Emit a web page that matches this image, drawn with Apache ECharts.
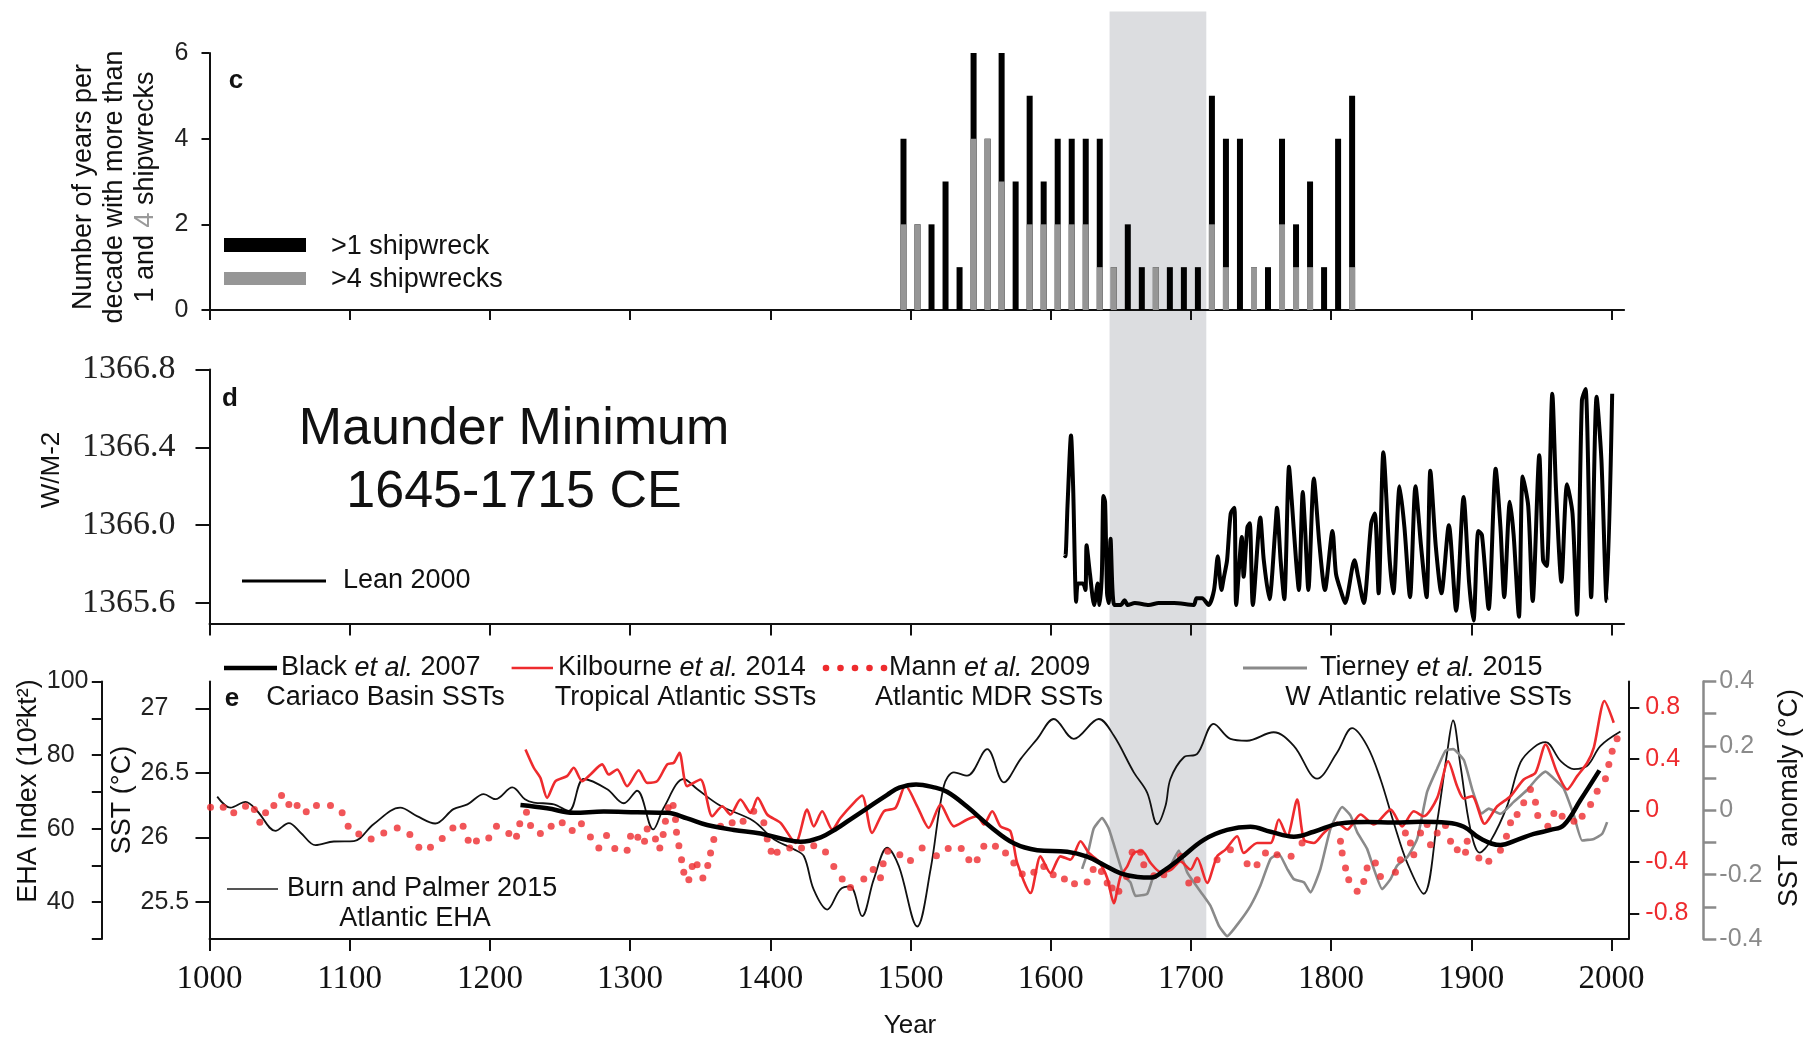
<!DOCTYPE html>
<html><head><meta charset="utf-8">
<script src="https://cdn.jsdelivr.net/npm/echarts@6/dist/echarts.min.js"></script>
<style>html,body{margin:0;padding:0;background:#fff}#c{width:1805px;height:1039px}</style>
</head><body><div id="c"></div>
<script>
// ---------------- DATA ----------------
const yearTicks = [1000,1100,1200,1300,1400,1500,1600,1700,1800,1900,2000];
const maunder = [1642, 1711];

// Panel c: years per decade with >1 and >4 shipwrecks
const decades = [1490,1500,1510,1520,1530,1540,1550,1560,1570,1580,1590,1600,1610,1620,1630,1640,1650,1660,1670,1680,1690,1700,1710,1720,1730,1740,1750,1760,1770,1780,1790,1800,1810];
const over1 = [4,2,2,3,1,6,4,6,3,5,3,4,4,4,4,1,2,1,1,1,1,1,5,4,4,1,1,4,2,3,1,4,5];
const over4 = [2,2,0,0,0,4,4,3,0,2,2,2,2,2,1,1,0,0,1,0,0,0,2,1,0,1,0,2,1,1,0,0,1];
const cTicks = [0,2,4,6];

// Panel d: Lean 2000 TSI (W/m2)
const lean2000 = [[1609.8,1365.846],[1610.5,1365.84],[1612,1366.1],[1614.5,1366.461],[1616,1366.2],[1618.2,1365.607],[1619.5,1365.70],[1623,1365.70],[1624.8,1365.667],[1625.6,1365.897],[1628,1365.75],[1631,1365.59],[1633.5,1365.70],[1634.8,1365.59],[1636.5,1365.75],[1637.6,1366.15],[1638.8,1366.12],[1640.2,1365.65],[1641.4,1365.6],[1642.7,1365.93],[1645.3,1365.59],[1650,1365.59],[1652.7,1365.615],[1655,1365.59],[1660,1365.6],[1670,1365.59],[1677,1365.6],[1688,1365.6],[1702,1365.59],[1704,1365.625],[1708,1365.625],[1712.6,1365.59],[1716.5,1365.667],[1719.2,1365.84],[1721.8,1365.667],[1723.6,1365.735],[1725.8,1365.82],[1728.4,1366.06],[1731,1366.09],[1732.3,1365.59],[1736.3,1365.94],[1737.6,1365.735],[1740.3,1365.99],[1742,1366.01],[1744.2,1365.59],[1749.5,1366.04],[1752,1365.82],[1756,1365.62],[1760,1365.96],[1761.4,1366.09],[1764,1365.82],[1766.6,1365.62],[1770,1366.30],[1771.9,1366.13],[1775,1365.82],[1777,1365.667],[1779.8,1366.17],[1781.4,1365.99],[1783.8,1365.667],[1787.7,1366.24],[1791.7,1365.90],[1795.6,1365.667],[1801,1365.97],[1803.5,1365.75],[1807.5,1365.65],[1810,1365.6],[1816.7,1365.82],[1819.3,1365.735],[1823.3,1365.6],[1828.6,1366.01],[1831.2,1366.06],[1833.9,1365.65],[1837.3,1366.375],[1841.8,1365.82],[1844.4,1365.65],[1848.9,1366.20],[1852.3,1365.99],[1856.3,1365.63],[1860.2,1366.20],[1864.2,1365.89],[1868.1,1365.63],[1870.8,1366.28],[1874.7,1365.89],[1878.7,1365.65],[1884,1366.0],[1889.2,1365.56],[1894.5,1366.145],[1898.5,1365.70],[1901.6,1365.51],[1905,1365.97],[1907.6,1365.95],[1912.4,1365.57],[1917.4,1366.29],[1920.8,1365.99],[1923.5,1365.63],[1927.5,1366.12],[1930.2,1365.95],[1934,1365.53],[1936.7,1366.25],[1940.6,1366.1],[1943.8,1365.61],[1948.5,1366.36],[1951.2,1365.82],[1953.8,1365.79],[1957.8,1366.675],[1960.4,1366.19],[1964.3,1365.71],[1968.3,1366.21],[1972.2,1366.06],[1975.4,1365.54],[1978.9,1366.64],[1981.5,1366.70],[1985.5,1365.63],[1989.4,1366.66],[1992.8,1366.34],[1996.5,1365.61],[2000.5,1366.675]];
const dTicks = [1365.6,1366.0,1366.4,1366.8];

// Panel e
const burnPalmer = [[1005.5,68.7],[1015,65.7],[1025.7,67.3],[1034,64.8],[1047,59.4],[1056.6,61.5],[1065,58.9],[1075.6,55.5],[1088.7,56.5],[1103,56.6],[1117,61.2],[1136,65.7],[1148,63.4],[1161,61.4],[1174,65.3],[1184,66.6],[1195.6,69.4],[1204,68.0],[1216,71.2],[1225,68.0],[1231.3,67.1],[1245.6,66.6],[1256.3,64.8],[1267,73.5],[1283.7,70.7],[1295.5,66.9],[1305,70.3],[1316.5,59.8],[1324,65.7],[1338.3,73.5],[1348,70.7],[1364.5,66.2],[1388,62.1],[1402.5,57.1],[1416.8,54.4],[1424,52.5],[1431,43.4],[1440.6,38.0],[1450,43.5],[1457,44.3],[1465.5,36.2],[1473.8,46.2],[1483.4,54.8],[1491.7,49.8],[1504.8,33.4],[1514.3,48.9],[1523.8,71.6],[1531,75.3],[1540.5,74.4],[1554.7,81.6],[1566.6,72.6],[1578.5,78.9],[1590.4,84.4],[1602.2,89.8],[1616.5,84.4],[1634.3,89.8],[1645,85.3],[1659.3,75.3],[1668.8,69.8],[1676,61.2],[1681.9,66.2],[1685.4,73.5],[1695,79.4],[1704.5,80.3],[1716.3,88.5],[1728.2,84.4],[1740,83.9],[1759,86.2],[1773.4,82.5],[1790,73.6],[1804.3,80.7],[1815,87.3],[1825.7,82.5],[1835.2,73.5],[1844.7,61.6],[1854.3,50.7],[1866.1,42.3],[1875.7,62],[1882.8,80.7],[1887,89.4],[1892.3,77.1],[1899.4,59.8],[1906,53.5],[1913.7,56.6],[1925.6,66.2],[1935.1,78.0],[1944.6,82.1],[1953,83.5],[1963.7,78.4],[1973.2,76.2],[1982.7,77.1],[1992.2,82.5],[2006.4,86.4]];
const black2007 = [[1221.8,26.25],[1240.8,26.225],[1259.8,26.19],[1281.2,26.2],[1305,26.194],[1326.5,26.19],[1340.7,26.147],[1355,26.095],[1374,26.057],[1393,26.03],[1409.6,25.985],[1421.5,25.966],[1436,26.0],[1447.7,26.07],[1457.2,26.14],[1469,26.225],[1483.4,26.33],[1492,26.385],[1504,26.41],[1516,26.39],[1526,26.354],[1540.5,26.237],[1557,26.082],[1573.7,25.953],[1590.4,25.9],[1611.8,25.888],[1626,25.85],[1638,25.785],[1650,25.72],[1662,25.692],[1672,25.688],[1680,25.735],[1692.6,25.837],[1709.2,25.98],[1725.8,26.057],[1742.5,26.082],[1756.8,26.043],[1773.4,26.005],[1787.7,26.043],[1806.7,26.108],[1825.7,26.118],[1844.7,26.114],[1863.8,26.12],[1882.8,26.113],[1894.7,26.082],[1906.6,25.99],[1920.8,25.94],[1932.7,25.98],[1944.6,26.026],[1956.5,26.057],[1966,26.095],[1977.9,26.29],[1991.4,26.52]];
const kilbourne = [[1225.4,0.472],[1231.3,0.33],[1236,0.252],[1240.8,0.096],[1246.8,0.226],[1255,0.265],[1259.8,0.33],[1265.8,0.226],[1271.7,0.278],[1280,0.356],[1284.8,0.278],[1290.8,0.317],[1297.9,0.187],[1306.2,0.311],[1312.2,0.213],[1319.3,0.226],[1326.5,0.356],[1331.2,0.369],[1335.2,0.447],[1340.7,0.187],[1350.2,0.239],[1358.6,-0.047],[1365.7,0.031],[1371.6,-0.033],[1378.7,0.083],[1385.9,-0.02],[1391,0.096],[1397.8,-0.033],[1407.3,-0.098],[1418,-0.254],[1426.3,0.005],[1431,-0.125],[1437,-0.008],[1444.2,-0.15],[1450,-0.06],[1459.6,0.058],[1465.5,0.114],[1472.6,-0.176],[1481,-0.008],[1489.3,0.018],[1496.4,0.192],[1504.8,0.031],[1513,-0.137],[1521.4,0.044],[1531,-0.125],[1540.5,-0.072],[1547.6,-0.047],[1552.3,-0.111],[1558.3,-0.008],[1564.2,-0.125],[1571.3,-0.163],[1576.1,-0.409],[1585.6,-0.643],[1592.7,-0.358],[1599.9,-0.488],[1607,-0.358],[1614.1,-0.384],[1621.3,-0.241],[1627.2,-0.332],[1634.3,-0.397],[1640.3,-0.526],[1645,-0.721],[1649.8,-0.514],[1654.6,-0.436],[1659.3,-0.332],[1665.3,-0.319],[1671.2,-0.409],[1678.3,-0.48],[1685.4,-0.465],[1692.6,-0.397],[1699.7,-0.461],[1704.5,-0.371],[1711.6,-0.565],[1718.7,-0.358],[1724.7,-0.306],[1733,-0.202],[1737.7,-0.332],[1747.3,-0.254],[1756.8,-0.254],[1762.7,-0.072],[1768.7,-0.202],[1775.8,0.083],[1780.6,-0.228],[1787.7,-0.254],[1794.8,-0.176],[1804.3,-0.098],[1811.5,-0.15],[1821,-0.033],[1830.5,-0.111],[1842.4,0.005],[1850.7,-0.125],[1859,-0.008],[1866.1,-0.047],[1875.7,0.096],[1883.5,0.381],[1889.9,0.187],[1894.7,0.09],[1900.6,0.109],[1909.5,-0.105],[1918.5,0.031],[1928,0.109],[1937.4,0.239],[1945.8,0.291],[1953,0.511],[1961.3,0.291],[1968.4,0.161],[1975.5,0.265],[1982.7,0.369],[1987.4,0.486],[1995,0.848],[2001.6,0.68]];
const mann = [[1000.7,0.023],[1009.8,0.023],[1017.3,-0.02],[1025.7,0.031],[1032,0.005],[1035.9,-0.093],[1040,-0.02],[1045.9,0.037],[1051.4,0.114],[1056.6,0.044],[1062.5,0.037],[1069,-0.012],[1076.3,0.037],[1086.3,0.037],[1094.6,-0.02],[1098.9,-0.125],[1106.5,-0.184],[1115.3,-0.223],[1124.3,-0.176],[1133.9,-0.137],[1142.9,-0.189],[1149.3,-0.288],[1157.6,-0.288],[1166,-0.22],[1173.6,-0.137],[1180.9,-0.125],[1184.5,-0.233],[1190.4,-0.238],[1199.2,-0.215],[1204.7,-0.125],[1213.5,-0.181],[1219,-0.202],[1221.3,-0.104],[1226.1,-0.016],[1229,-0.119],[1236,-0.181],[1243.7,-0.125],[1251.6,-0.098],[1258.7,-0.158],[1265.3,-0.104],[1271.7,-0.207],[1277.7,-0.293],[1283.2,-0.197],[1289.1,-0.298],[1297.9,-0.311],[1300.3,-0.202],[1305.5,-0.21],[1310.3,-0.241],[1312.2,-0.145],[1318.1,-0.223],[1321.2,-0.293],[1323.6,-0.189],[1325.2,-0.086],[1327.2,0.019],[1330.7,0.037],[1332.4,-0.072],[1333.1,-0.171],[1334.8,-0.275],[1336.7,-0.384],[1338.3,-0.482],[1341.9,-0.539],[1344.3,-0.436],[1347.8,-0.423],[1351.9,-0.526],[1355.4,-0.43],[1357.4,-0.332],[1359.7,-0.228],[1364.5,-0.125],[1372.8,-0.098],[1380.6,-0.086],[1388.2,-0.008],[1395.4,-0.098],[1397.8,-0.223],[1400.6,-0.319],[1404.9,-0.327],[1413.9,-0.293],[1422.3,-0.293],[1431,-0.275],[1439.4,-0.324],[1445.3,-0.436],[1451.3,-0.534],[1457.2,-0.6],[1466.7,-0.534],[1473.4,-0.461],[1478.6,-0.524],[1480.5,-0.415],[1483.8,-0.319],[1492.4,-0.345],[1500,-0.391],[1508.3,-0.293],[1518.5,-0.353],[1526.9,-0.298],[1536.2,-0.298],[1541.6,-0.384],[1547.6,-0.384],[1552.3,-0.28],[1560.6,-0.28],[1567.8,-0.332],[1573.7,-0.409],[1579.7,-0.495],[1588,-0.482],[1595.1,-0.436],[1601.8,-0.5],[1609.8,-0.534],[1617,-0.57],[1626,-0.557],[1630.3,-0.461],[1636.2,-0.475],[1640.3,-0.565],[1643.8,-0.604],[1648.6,-0.63],[1654.1,-0.514],[1658.1,-0.327],[1664.1,-0.327],[1666.4,-0.423],[1673.6,-0.508],[1680.7,-0.5],[1692.6,-0.358],[1698.5,-0.565],[1704.5,-0.539],[1718.7,-0.384],[1728.2,-0.306],[1740.1,-0.415],[1747.2,-0.423],[1753.2,-0.332],[1761.5,-0.345],[1771.5,-0.358],[1779.3,-0.254],[1806.7,-0.241],[1807.9,-0.332],[1810.3,-0.448],[1812.6,-0.539],[1818.6,-0.63],[1823.3,-0.553],[1825.7,-0.448],[1831.6,-0.409],[1835.2,-0.514],[1845.9,-0.482],[1849.4,-0.384],[1853,-0.176],[1856.6,-0.254],[1859,-0.345],[1863.8,-0.176],[1868.5,-0.111],[1870.9,-0.267],[1875.7,-0.176],[1881.6,-0.119],[1885.2,-0.241],[1890,-0.306],[1895.9,-0.327],[1897.1,-0.241],[1905.4,-0.371],[1912.5,-0.397],[1920.8,-0.311],[1925.1,-0.202],[1928,-0.098],[1932.7,-0.033],[1937.4,0.058],[1942.2,0.161],[1945.8,0.062],[1947.4,-0.041],[1954.6,-0.125],[1958.9,-0.026],[1964.8,-0.047],[1973.2,-0.086],[1979.1,-0.047],[1985.1,0.044],[1989.8,0.148],[1995.7,0.244],[1998.1,0.356],[2000.5,0.459],[2004,0.556]];
const tierney = [[1622.4,-0.182],[1627.2,-0.12],[1630.7,-0.057],[1636.7,-0.024],[1641.4,-0.057],[1647.4,-0.14],[1652.1,-0.203],[1656.9,-0.224],[1660.5,-0.266],[1668.8,-0.26],[1673.6,-0.203],[1679,-0.198],[1684.3,-0.182],[1691.4,-0.125],[1697.4,-0.193],[1702.1,-0.224],[1708.1,-0.26],[1714,-0.297],[1720,-0.359],[1725.9,-0.391],[1734.2,-0.349],[1742.5,-0.297],[1749.6,-0.234],[1756.8,-0.151],[1762.7,-0.136],[1768.7,-0.182],[1773.4,-0.214],[1780.6,-0.224],[1785.3,-0.255],[1792.4,-0.182],[1799.6,-0.057],[1807.9,0.01],[1813.8,-0.016],[1818.6,-0.068],[1825.7,-0.12],[1830.5,-0.182],[1836.4,-0.245],[1842.4,-0.214],[1847.1,-0.172],[1854.3,-0.146],[1861.4,-0.089],[1868.5,0.057],[1875.7,0.13],[1881.6,0.185],[1887,0.19],[1894.7,0.156],[1901,0.06],[1907.5,-0.01],[1912.5,0.005],[1920.8,-0.011],[1930.3,0.026],[1939.8,0.063],[1946.9,0.099],[1952.9,0.12],[1958.8,0.099],[1965.9,0.068],[1973.2,-0.016],[1979.1,-0.094],[1987.4,-0.089],[1993.4,-0.073],[1996.9,-0.037]];
const sstTicks = [25.5,26,26.5,27];
const ehaTicks = [30,40,50,60,70,80,90,100];
const ehaLabels = [40,60,80,100];
const redTicks = [-0.8,-0.4,0,0.4,0.8];
const grayTicks = [-0.4,-0.3,-0.2,-0.1,0,0.1,0.2,0.3,0.4];
const grayLabels = [-0.4,-0.2,0,0.2,0.4];

// ---------------- STYLE ----------------
const SANS = "'Liberation Sans', Arial, Helvetica, sans-serif";
const SERIF = "'Liberation Serif', 'Times New Roman', serif";
const INK = '#111';
const RED = '#ee2b2e';
const GRAY = '#8a8a8a';

const chart = echarts.init(document.getElementById('c'), null, {renderer: 'canvas'});

function xAx(grid, max, tickLen, showLabel) {
  return {type: 'value', gridIndex: grid, min: 1000, max: max,
    axisLine: {show: true, onZero: false, lineStyle: {color: INK, width: 2}},
    axisTick: {show: true, customValues: yearTicks, length: tickLen, lineStyle: {color: INK, width: 2}},
    axisLabel: {show: showLabel, customValues: yearTicks, margin: 24, fontFamily: SERIF, fontSize: 33, color: INK,
      formatter: v => String(Math.round(v))},
    splitLine: {show: false}};
}
function yAx(o) {
  return Object.assign({type: 'value', splitLine: {show: false},
    axisLine: {show: true, onZero: false, lineStyle: {color: INK, width: 2}}}, o);
}

const option = {
  animation: false,
  backgroundColor: '#fff',
  grid: [
    {left: 209.5, top: 53, width: 1414.6, height: 257},
    {left: 209.5, top: 369.5, width: 1414.6, height: 254},
    {left: 209.5, top: 681.5, width: 1418.8, height: 257.5}
  ],
  xAxis: [xAx(0, 2009, 10, false), xAx(1, 2009, 12, false), xAx(2, 2012, 12, true)],
  yAxis: [
    yAx({gridIndex: 0, min: 0, max: 6,
      axisTick: {customValues: cTicks, length: 8, lineStyle: {color: INK, width: 2}},
      axisLabel: {customValues: cTicks, margin: 21, fontFamily: SANS, fontSize: 25, color: '#222'}}),
    yAx({gridIndex: 1, min: 1365.495, max: 1366.8,
      axisTick: {customValues: dTicks, length: 14, lineStyle: {color: INK, width: 2}},
      axisLabel: {customValues: dTicks, margin: 34, fontFamily: SERIF, fontSize: 34, color: '#222',
        formatter: v => Number(v).toFixed(1)}}),
    yAx({gridIndex: 2, min: 25.21, max: 27.21,
      axisTick: {customValues: sstTicks, length: 14, lineStyle: {color: INK, width: 2}},
      axisLabel: {customValues: sstTicks, margin: 69, align: 'left', fontFamily: SANS, fontSize: 25, color: '#222',
        formatter: v => String(v)}}),
    yAx({gridIndex: 2, position: 'left', offset: 107.7, min: 30, max: 100,
      axisTick: {customValues: ehaTicks, length: 10, lineStyle: {color: INK, width: 2}},
      axisLabel: {customValues: ehaLabels, margin: 55, align: 'left', fontFamily: SANS, fontSize: 25, color: '#222'}}),
    yAx({gridIndex: 2, position: 'right', min: -1, max: 1,
      axisTick: {customValues: redTicks, length: 11, lineStyle: {color: INK, width: 2}},
      axisLabel: {customValues: redTicks, margin: 17, align: 'left', fontFamily: SANS, fontSize: 25, color: RED,
        formatter: v => String(Math.round(v * 10) / 10)}}),
    yAx({gridIndex: 2, position: 'right', offset: 75, min: -0.4, max: 0.4,
      axisLine: {show: true, onZero: false, lineStyle: {color: GRAY, width: 2.5}},
      axisTick: {customValues: grayTicks, length: 13, lineStyle: {color: GRAY, width: 2.5}},
      axisLabel: {customValues: grayLabels, margin: 16, align: 'left', fontFamily: SANS, fontSize: 25, color: GRAY,
        formatter: v => String(Math.round(v * 10) / 10)}})
  ],
  series: [
    {name: '>1 shipwreck', type: 'bar', xAxisIndex: 0, yAxisIndex: 0, barWidth: 6, barGap: '-100%',
      data: decades.map((d, i) => [d + 5, over1[i]]), itemStyle: {color: '#000'}, z: 2},
    {name: '>4 shipwrecks', type: 'bar', xAxisIndex: 0, yAxisIndex: 0, barWidth: 6, barGap: '-100%',
      data: decades.map((d, i) => [d + 5, over4[i]]), itemStyle: {color: '#969696'}, z: 3},
    {name: 'Lean 2000', type: 'line', xAxisIndex: 1, yAxisIndex: 1, data: lean2000, symbol: 'none',
      smooth: 0.25, lineStyle: {color: '#000', width: 4, join: 'round'}, z: 5},
    {name: 'Burn and Palmer 2015', type: 'line', xAxisIndex: 2, yAxisIndex: 3, data: burnPalmer, symbol: 'none',
      smooth: 0.35, lineStyle: {color: INK, width: 1.8}, z: 3},
    {name: 'Tierney et al. 2015', type: 'line', xAxisIndex: 2, yAxisIndex: 5, data: tierney, symbol: 'none',
      smooth: 0.15, lineStyle: {color: GRAY, width: 2.6}, z: 4},
    {name: 'Mann et al. 2009', type: 'scatter', xAxisIndex: 2, yAxisIndex: 4, data: mann, symbolSize: 7,
      itemStyle: {color: RED}, z: 5},
    {name: 'Kilbourne et al. 2014', type: 'line', xAxisIndex: 2, yAxisIndex: 4, data: kilbourne, symbol: 'none',
      smooth: 0.25, lineStyle: {color: RED, width: 2.6}, z: 6},
    {name: 'Black et al. 2007', type: 'line', xAxisIndex: 2, yAxisIndex: 2, data: black2007, symbol: 'none',
      smooth: 0.4, lineStyle: {color: '#000', width: 4.5}, z: 7}
  ]
};
chart.setOption(option);

// ---------------- ANNOTATIONS ----------------
function T(x, y, text, st, extra) {
  const style = Object.assign({text: text, fill: INK, fontFamily: SANS, fontSize: 27,
    align: 'left', textAlign: 'left', verticalAlign: 'middle', textVerticalAlign: 'middle'}, st || {});
  if (style.align) style.textAlign = style.align;
  return Object.assign({type: 'text', x: x, y: y, z: 100, silent: true, style: style}, extra || {});
}
function L(x1, y1, x2, y2, color, w) {
  return {type: 'line', z: 100, silent: true, shape: {x1: x1, y1: y1, x2: x2, y2: y2}, style: {stroke: color, lineWidth: w}};
}
const it = {fontStyle: 'italic', fontFamily: SANS, fontSize: 27, fill: INK};

const sx1 = chart.convertToPixel({xAxisIndex: 0}, maunder[0]);
const sx2 = chart.convertToPixel({xAxisIndex: 0}, maunder[1]);

const R1 = 668, R2 = 698;
const g = [
  {type: 'rect', z: -10, silent: true, shape: {x: sx1, y: 11.5, width: sx2 - sx1, height: 927},
    style: {fill: '#dcdde0'}},
  // panel c
  T(236, 81, 'c', {fontWeight: 'bold', fontSize: 26, align: 'center'}),
  {type: 'rect', z: 100, silent: true, shape: {x: 224, y: 238, width: 82, height: 14}, style: {fill: '#000'}},
  {type: 'rect', z: 100, silent: true, shape: {x: 224, y: 272, width: 82, height: 13}, style: {fill: '#969696'}},
  T(331, 246.5, '>1 shipwreck'),
  T(331, 280, '>4 shipwrecks'),
  T(115, 187, 'Number of years per\ndecade with more than\n1 and {g|4} shipwrecks',
    {align: 'center', lineHeight: 31, rich: {g: {fill: '#9a9a9a', fontFamily: SANS, fontSize: 27}}},
    {rotation: Math.PI / 2}),
  // panel d
  T(230, 399, 'd', {fontWeight: 'bold', fontSize: 26, align: 'center'}),
  T(514, 430, 'Maunder Minimum', {fontSize: 52, align: 'center'}),
  T(514, 493, '1645-1715 CE', {fontSize: 52, align: 'center'}),
  L(242, 581, 326, 581, '#000', 3),
  T(343, 581, 'Lean 2000'),
  T(52, 470, 'W/M-2', {fontSize: 26, align: 'center'}, {rotation: Math.PI / 2}),
  // panel e
  T(232, 699, 'e', {fontWeight: 'bold', fontSize: 26, align: 'center'}),
  L(224, R1, 277, R1, '#000', 4.5),
  T(281, R1, 'Black {i|et al.} 2007', {rich: {i: it}}),
  T(385.5, R2, 'Cariaco Basin SSTs', {align: 'center'}),
  L(511.6, R1, 553, R1, RED, 2.6),
  T(558, R1, 'Kilbourne {i|et al.} 2014', {rich: {i: it}}),
  T(685.5, R2, 'Tropical Atlantic SSTs', {align: 'center'}),
  T(889, R1, 'Mann {i|et al.} 2009', {rich: {i: it}}),
  T(989, R2, 'Atlantic MDR SSTs', {align: 'center'}),
  L(1243, R1, 1307, R1, GRAY, 3),
  T(1320, R1, 'Tierney {i|et al.} 2015', {rich: {i: it}}),
  T(1428.5, R2, 'W Atlantic relative SSTs', {align: 'center'}),
  L(227, 889, 278, 889, '#555', 2),
  T(287, 889, 'Burn and Palmer 2015'),
  T(415, 918.5, 'Atlantic EHA', {align: 'center'}),
  T(29, 791, 'EHA Index (10²kt²)', {align: 'center'}, {rotation: Math.PI / 2}),
  T(123, 800, 'SST (°C)', {align: 'center'}, {rotation: Math.PI / 2}),
  T(1790, 798, 'SST anomaly (°C)', {align: 'center'}, {rotation: Math.PI / 2}),
  T(910, 1026, 'Year', {fontSize: 26, align: 'center'})
];
[826, 840.5, 855, 869.5, 884].forEach(function (cx) {
  g.push({type: 'circle', z: 100, silent: true, shape: {cx: cx, cy: R1, r: 3.3}, style: {fill: RED}});
});
chart.setOption({graphic: g});
</script>
</body></html>
